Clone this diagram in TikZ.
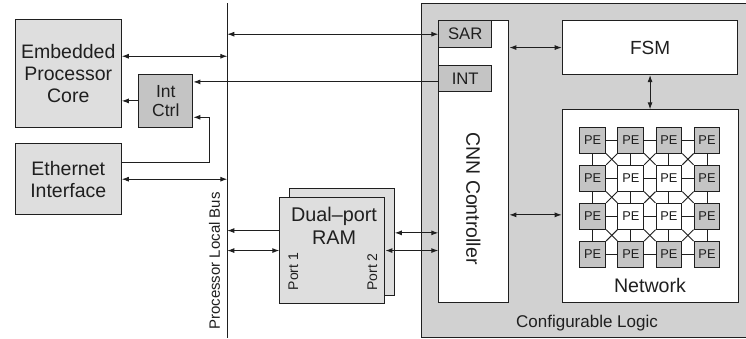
\documentclass[tikz,border=0pt]{standalone}
\usepackage{fontspec}
\setmainfont{Liberation Sans}
\usetikzlibrary{arrows.meta,calc}
\definecolor{lightbox}{gray}{0.87}
\definecolor{midbox}{gray}{0.77}
\definecolor{cfgfill}{gray}{0.82}
\definecolor{ink}{gray}{0.12}
\newcommand\fs[2]{\fontsize{#1}{#2}\selectfont}
\begin{document}
\begin{tikzpicture}[x=1pt,y=-1pt,
  box/.style={draw=ink, line width=1.1pt, inner sep=0pt, anchor=north west, text=ink, align=center},
  lbl/.style={text=ink, inner sep=0pt, align=center},
  conn/.style={draw=ink, line width=0.9pt},
  arw/.style={-{Latex[length=7pt,width=5pt]}},
  both/.style={{Latex[length=7pt,width=5pt]}-{Latex[length=7pt,width=5pt]}},
  pe/.style={draw=ink, line width=1pt, minimum size=25.8pt, inner sep=0pt, font=\fs{12.8}{14}, text=ink},
  link/.style={draw=ink, line width=0.9pt}
]
\clip (0,0) rectangle (746,338);
\fill[white] (0,0) rectangle (746,338);

% configurable logic region
\node[box, fill=cfgfill, minimum width=345pt, minimum height=334pt] (cfg) at (420.7,3.3) {};
\node[lbl, font=\fs{17}{20}] (cfglbl) at (587,323) {Configurable Logic};

% bus
\coordinate (busTop) at (227.3,3);
\coordinate (busBot) at (227.3,338);
\draw[ink, line width=1.2pt] (busTop) -- (busBot);
\node[lbl, rotate=90, font=\fs{15}{17}] (buslbl) at (214.5,261) {Processor Local Bus};

% left boxes
\node[box, fill=lightbox, minimum width=106pt, minimum height=107.4pt, font=\fs{19.5}{21.7}] (emb) at (14.7,19.3) {Embedded\\Processor\\Core};
\node[box, fill=lightbox, minimum width=106pt, minimum height=70.7pt, font=\fs{19.5}{21.7}] (eth) at (14.7,143.3) {Ethernet\\Interface};
\node[box, fill=midbox, minimum width=54pt, minimum height=52.7pt, font=\fs{17.5}{18.5}] (intc) at (138.3,74) {Int\\Ctrl};

% RAM
\node[box, fill=lightbox, minimum width=105pt, minimum height=106.4pt] (ramb) at (288.7,188.3) {};
\node[box, fill=lightbox, minimum width=105pt, minimum height=105.4pt] (ram) at (279.3,197.3) {};
\node[lbl, font=\fs{19.8}{22.7}] (ramlbl) at (334,226) {Dual\textendash port\\RAM};
\node[lbl, rotate=90, font=\fs{14}{16}] (p1) at (293.3,271.5) {Port 1};
\node[lbl, rotate=90, font=\fs{14}{16}] (p2) at (372.3,272) {Port 2};

% CNN controller
\node[box, fill=white, minimum width=70pt, minimum height=282.3pt] (cnn) at (438.3,20) {};
\node[lbl, rotate=-90, font=\fs{19.5}{22}] (cnnlbl) at (473.3,198.5) {CNN Controller};
\node[box, fill=midbox, minimum width=52.7pt, minimum height=27.3pt, font=\fs{16.7}{18}] (sar) at (438.3,20) {SAR};
\node[box, fill=midbox, minimum width=52.7pt, minimum height=25.7pt, font=\fs{16.7}{18}] (int) at (438.3,65) {INT};

% FSM and network
\node[box, fill=white, minimum width=175.6pt, minimum height=54pt, font=\fs{19}{21}] (fsm) at (561.7,20) {FSM};
\node[box, fill=white, minimum width=176pt, minimum height=193pt] (net) at (561.7,109.3) {};
\node[lbl, font=\fs{19.6}{22}] (netlbl) at (650,285) {Network};

\foreach \r in {0,...,3}{\foreach \c in {0,...,3}{
  \pgfmathtruncatemacro\inner{(\r>0)*(\r<3)*(\c>0)*(\c<3)}
  \ifnum\inner=1 \def\pefill{white}\else\def\pefill{midbox}\fi
  \node[pe, fill=\pefill, anchor=north west] (pe-\r-\c) at ({579.3+38.1*\c},{126.7+38.1*\r}) {PE};
}}
\foreach \r in {0,...,3}{\foreach \c/\n in {0/1,1/2,2/3}{
  \draw[link] (pe-\r-\c.east) -- (pe-\r-\n.west);
  \draw[link] (pe-\c-\r.south) -- (pe-\n-\r.north);
}}
\foreach \r/\rn in {0/1,1/2,2/3}{\foreach \c/\cn in {0/1,1/2,2/3}{
  \draw[link] (pe-\r-\c.south east) -- (pe-\rn-\cn.north west);
  \draw[link] (pe-\r-\cn.south west) -- (pe-\rn-\c.north east);
}}

% connectors
\coordinate (a1) at ([yshift=17.3pt]emb.east);
\draw[conn, both] (a1) -- (a1 -| busTop);
\draw[conn, arw] (intc.west) -- (intc.west -| emb.east);
\coordinate (a3) at ([yshift=-3.5pt]int.west);
\draw[conn, arw] (a3) -- (a3 -| intc.east);
\coordinate (a4s) at ([yshift=16.6pt]eth.east);
\coordinate (a4e) at ([yshift=-16.4pt]intc.east);
\draw[conn, arw] (a4s) -- ++(88,0) |- (a4e);
\draw[conn, both] (eth.east) -- (eth.east -| busTop);
\draw[conn, both] (sar.west -| busTop) -- (sar.west);
\coordinate (a7) at ([yshift=20pt]ram.west);
\draw[conn, arw] (a7) -- (a7 -| busTop);
\draw[conn, both] (ram.west -| busTop) -- (ram.west);
\coordinate (a9) at ([yshift=9.2pt]ramb.east);
\draw[conn, both] (a9) -- (a9 -| cnn.west);
\draw[conn, both] (ram.east) -- (ram.east -| cnn.west);
\draw[conn, both] (fsm.west -| cnn.east) -- (fsm.west);
\draw[conn, both] (fsm.south) -- (fsm.south |- net.north);
\coordinate (a13) at ([yshift=-8.5pt]net.west);
\draw[conn, both] (a13 -| cnn.east) -- (a13);
\end{tikzpicture}
\end{document}
